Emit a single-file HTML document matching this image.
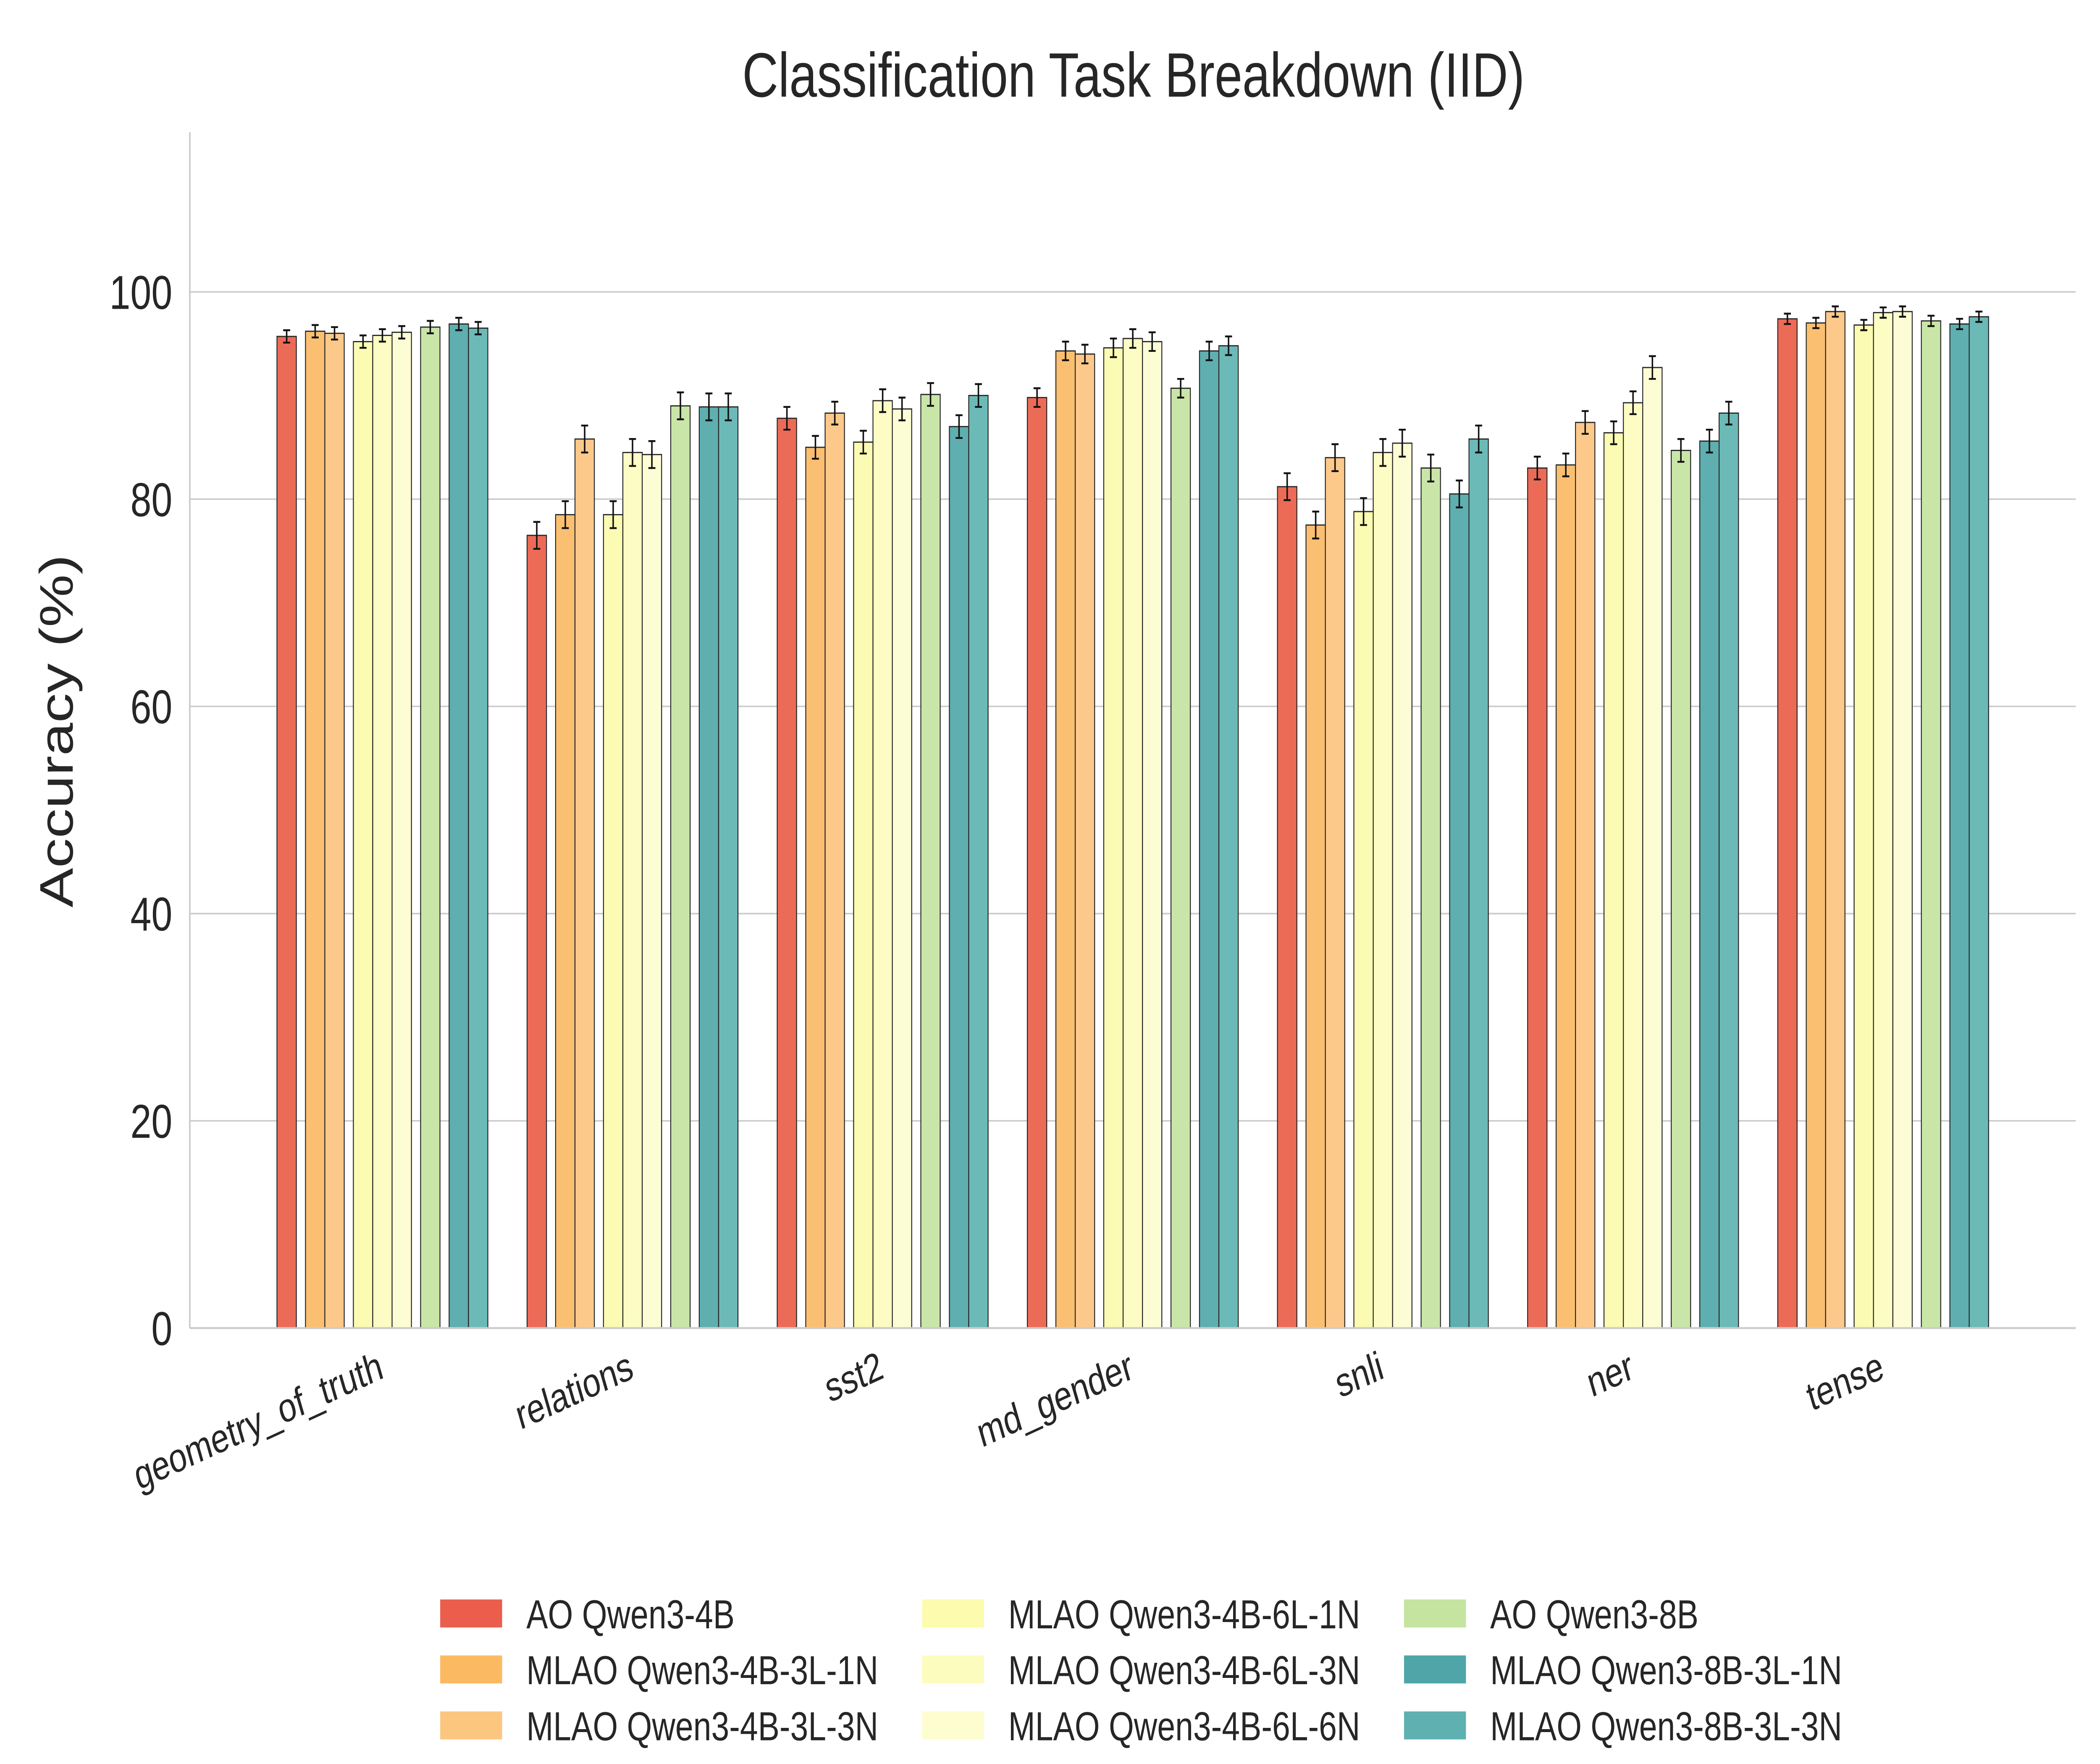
<!DOCTYPE html>
<html><head><meta charset="utf-8"><style>
html,body{margin:0;padding:0;background:#fff;overflow:hidden;width:100vw;height:100vh;}
svg{display:block;width:100vw;height:100vh;position:absolute;left:0;top:0;}
text{font-family:"Liberation Sans",Arial,sans-serif;fill:#262626;}
</style></head>
<body>
<svg id="chart" viewBox="0 0 1560 1040" preserveAspectRatio="none" xmlns="http://www.w3.org/2000/svg">
<g id="grid"></g>
<g id="bars"></g>
<g id="axes"></g>
<g id="legend"></g>
<text x="842" y="57" text-anchor="middle" font-size="37">Classification Task Breakdown (IID)</text>
<text x="0" y="0" transform="translate(54,431) rotate(-90)" text-anchor="middle" font-size="35">Accuracy (%)</text>
</svg>
<script>
const categories = ["geometry_of_truth","relations","sst2","md_gender","snli","ner","tense"];
const seriesNames = ["AO Qwen3-4B","MLAO Qwen3-4B-3L-1N","MLAO Qwen3-4B-3L-3N","MLAO Qwen3-4B-6L-1N","MLAO Qwen3-4B-6L-3N","MLAO Qwen3-4B-6L-6N","AO Qwen3-8B","MLAO Qwen3-8B-3L-1N","MLAO Qwen3-8B-3L-3N"];
const seriesColors = ["#ec6b57","#fbbf71","#fdc98a","#fbfbb3","#fcfcc4","#fdfdd5","#c9e6a8","#5faeb0","#6cbab7"];
const legendColors = ["#ea5e4b","#fbba62","#fcc580","#fcfbae","#fdfcbf","#fdfdd0","#c4e4a0","#4fa5a7","#5eb1b0"];
const sAO4 = [95.7,76.5,87.8,89.8,81.2,83.0,97.4];
const s31 = [96.2,78.5,85.0,94.3,77.5,83.3,97.0];
const s33 = [96.0,85.8,88.3,94.0,84.0,87.4,98.1];
const s61 = [95.2,78.5,85.5,94.6,78.8,86.4,96.8];
const s63 = [95.8,84.5,89.5,95.5,84.5,89.3,98.0];
const s66 = [96.1,84.3,88.7,95.2,85.4,92.7,98.1];
const sAO8 = [96.6,89.0,90.1,90.7,83.0,84.7,97.2];
const s831 = [96.9,88.9,87.0,94.3,80.5,85.6,96.9];
const s833 = [96.5,88.9,90.0,94.8,85.8,88.3,97.6];
const errs = [0.6,1.3,1.1,0.9,1.3,1.1,0.5];
const yTicks = [0,20,40,60,80,100];
const series = [sAO4,s31,s33,s61,s63,s66,sAO8,s831,s833];

const NS="http://www.w3.org/2000/svg";
const X0=141, X1=1542, Y0=783, Y1=78;
const xmin=-0.77, xmax=6.77, ymin=0, ymax=115.4;
function xs(v){return X0+(v-xmin)/(xmax-xmin)*(X1-X0);}
function ys(v){return Y0-(v-ymin)/(ymax-ymin)*(Y0-Y1);}
const bw=0.0774, gap=0.0366;
function barLeft(k){
  const grpStarts=[0,1,3,6,7];
  let g=[0,1,1,2,2,2,3,4,4][k];
  let within=k-grpStarts[g];
  return grpStarts[g]*bw+g*gap+within*bw;
}
const total=9*bw+4*gap;
function mk(tag,attrs,parent){const e=document.createElementNS(NS,tag);for(const k in attrs)e.setAttribute(k,attrs[k]);parent.appendChild(e);return e;}

const grid=document.getElementById('grid');
const axes=document.getElementById('axes');
yTicks.forEach(t=>{
  if(t>0){
    const l=mk('line',{x1:X0,x2:X1,y1:ys(t),y2:ys(t),stroke:'#cccccc','stroke-width':0.9},grid);
    
    
  }
  const tx=mk('text',{x:128,y:ys(t)+10,'text-anchor':'end','font-size':28},axes);
  tx.textContent=t;
  
  
});
const bars=document.getElementById('bars');
categories.forEach((c,i)=>{
  const left=i-total/2;
  series.forEach((s,k)=>{
    const x=xs(left+barLeft(k)), w=xs(left+barLeft(k)+bw)-x;
    const r=mk('rect',{x:x,y:ys(s[i]),width:w,height:ys(0)-ys(s[i]),fill:seriesColors[k],stroke:'#262626','stroke-width':0.7},bars);
    
    
    const cx=x+w/2, e=errs[i];
    const eb=mk('path',{d:`M${cx},${ys(s[i]+e)}V${ys(s[i]-e)}M${cx-2.6},${ys(s[i]+e)}H${cx+2.6}M${cx-2.6},${ys(s[i]-e)}H${cx+2.6}`,stroke:'#111','stroke-width':1.1,fill:'none'},bars);
    
    
  });
  const lx=xs(i);
  const tl=mk('text',{x:0,y:0,transform:`translate(${lx+2},${812}) rotate(-20)`,'text-anchor':'end','font-size':24},axes);
  tl.textContent=c;
  
  
});
const ls=mk('line',{x1:X0,x2:X0,y1:Y1,y2:Y0,stroke:'#cccccc','stroke-width':1.2},axes);


const bs=mk('line',{x1:X0,x2:X1,y1:Y0,y2:Y0,stroke:'#cccccc','stroke-width':1.2},axes);



const legend=document.getElementById('legend');
seriesNames.forEach((n,k)=>{
  const col=Math.floor(k/3), row=k%3;
  const px=327+col*358, py=943+row*33;
  const p=mk('rect',{x:px,y:py,width:46,height:16.5,fill:legendColors[k]},legend);
  
  
  const t=mk('text',{x:px+64,y:py+17,'font-size':24},legend);
  t.textContent=n;
  
  
});
</script>
</body></html>
